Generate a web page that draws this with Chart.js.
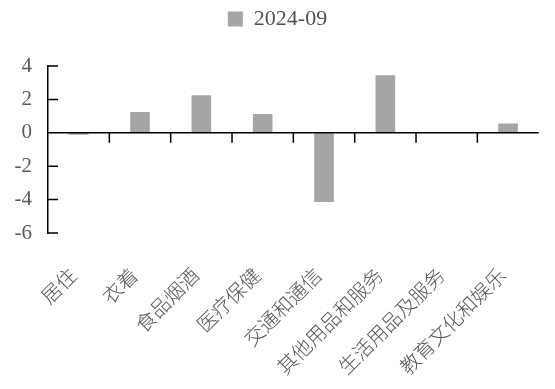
<!DOCTYPE html>
<html>
<head>
<meta charset="utf-8">
<script src="https://cdn.jsdelivr.net/npm/chart.js@4/dist/chart.umd.min.js"></script>
<style>
  body { margin: 0; background: #fff; }
  #wrap { width: 555px; height: 389px; }
</style>
</head>
<body>
<div id="wrap"><canvas id="chart" width="555" height="389"></canvas></div>
<script>
const categories = ["居住", "衣着", "食品烟酒", "医疗保健", "交通和通信", "其他用品和服务", "生活用品及服务", "教育文化和娱乐"];
const seriesLabel = "2024-09";
const values = [-0.12, 1.25, 2.25, 1.13, -4.15, 3.45, 0.05, 0.56];
const yTicks = [4, 2, 0, -2, -4, -6];

const serif = "'Liberation Serif', 'Times New Roman', serif";
const cjk = "'Noto Sans CJK SC', sans-serif";

// extra room under the legend so the plot starts where the original does
const legendGap = {
  id: "legendGap",
  afterInit(c) {
    const lg = c.legend;
    const fit = lg.fit.bind(lg);
    lg.fit = () => { fit(); lg.height += 26; };
  }
};

// zero axis line + inward ticks like the original
const axisMarks = {
  id: "axisMarks",
  afterDatasetsDraw(c) {
    const { ctx, chartArea, scales } = c;
    const x = scales.x, y = scales.y;
    const y0 = y.getPixelForValue(0);
    ctx.save();
    ctx.strokeStyle = "#000";
    ctx.lineWidth = 1.5;
    ctx.beginPath();
    ctx.moveTo(chartArea.left, y0);
    ctx.lineTo(chartArea.right, y0);
    for (let i = 0; i < categories.length - 1; i++) {
      const bx = (x.getPixelForValue(i) + x.getPixelForValue(i + 1)) / 2;
      ctx.moveTo(bx, y0);
      ctx.lineTo(bx, y0 + 10);
    }
    yTicks.forEach(v => {
      const py = y.getPixelForValue(v);
      ctx.moveTo(chartArea.left, py);
      ctx.lineTo(chartArea.left + 10, py);
    });
    ctx.stroke();
    ctx.restore();
  }
};

new Chart(document.getElementById("chart"), {
  type: "bar",
  data: {
    labels: categories,
    datasets: [{
      label: seriesLabel,
      data: values,
      backgroundColor: "#a5a5a5",
      barPercentage: 0.32,
      categoryPercentage: 1
    }]
  },
  options: {
    responsive: false,
    animation: false,
    layout: { padding: { top: 0, left: 0, right: 0, bottom: 0 } },
    plugins: {
      legend: {
        labels: {
          boxWidth: 15,
          boxHeight: 15,
          color: "#505050",
          font: { family: serif, size: 22 },
          padding: 8
        }
      },
      tooltip: { enabled: false }
    },
    scales: {
      x: {
        grid: { display: false, drawTicks: false },
        border: { display: false },
        ticks: {
          minRotation: 45,
          maxRotation: 45,
          autoSkip: false,
          padding: 30,
          labelOffset: -6,
          color: "#555555",
          font: { family: cjk, size: 20, weight: 300 }
        },
        afterFit(s) { s.height = 156; }
      },
      y: {
        min: -6,
        max: 4,
        afterBuildTicks(s) { s.ticks = yTicks.map(v => ({ value: v })); },
        grid: { display: false, drawTicks: false },
        border: { display: true, color: "#000", width: 1.5 },
        ticks: {
          padding: 16,
          color: "#595959",
          font: { family: serif, size: 21 }
        },
        afterFit(s) { s.width = 48; }
      }
    }
  },
  plugins: [legendGap, axisMarks]
});
</script>
</body>
</html>
